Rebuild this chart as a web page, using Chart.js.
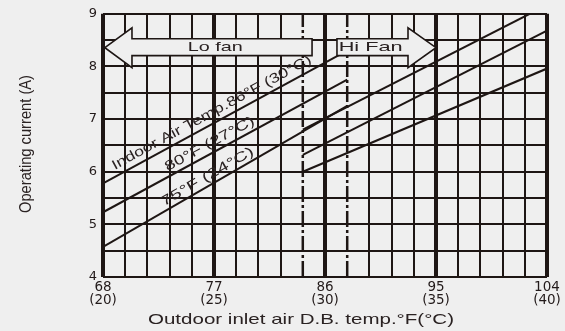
<!DOCTYPE html>
<html>
<head>
<meta charset="utf-8">
<style>
  html, body { margin: 0; padding: 0; background: #efefef; }
  #wrap { width: 565px; height: 331px; }
  canvas { display: block; }
</style>
<script src="https://cdn.jsdelivr.net/npm/chart.js@4.4.0/dist/chart.umd.min.js"></script>
</head>
<body>
<div id="wrap"><canvas id="chart" width="565" height="331"></canvas></div>
<script>
// Outdoor temperature axis: grid every 1 °C, labels every 5 °C
const gridCelsius = [20,21,22,23,24,25,26,27,28,29,30,31,32,33,34,35,36,37,38,39,40];
const xTickF = ['68', '77', '86', '95', '104'];
const xTickC = ['(20)', '(25)', '(30)', '(35)', '(40)'];
const yTickValues = [4, 5, 6, 7, 8, 9];

// Fan switch band (29 °C / 31 °C), drawn dashed
const fanSwitchF = [84.2, 87.8];

// Lo fan lines run up to 31 °C, Hi fan lines start at 29 °C
const loFanTempF = [68, 87.8];
const hiFanTempF = [84.2, 104];
const hi86TempF = [84.2, 102.6];

// Operating current (A) for each indoor air temperature
const currentLo86 = [5.78, 8.3];
const currentLo80 = [5.23, 7.75];
const currentLo75 = [4.57, 7.25];
const currentHi86 = [6.8, 9.0];
const currentHi80 = [6.32, 8.68];
const currentHi75 = [6.0, 7.96];

const lineLabels = ['Indoor Air Temp.86°F (30°C)', '80°F (27°C)', '75°F (24°C)'];

const INK = '#1e1614';
const BG = '#efefef';

const toF = c => Math.round((c * 1.8 + 32) * 100) / 100;
const pts = (xs, ys) => xs.map((x, i) => ({ x: x, y: ys[i] }));

function lineSet(xs, ys) {
  return { data: pts(xs, ys), borderColor: INK, borderWidth: 2, pointRadius: 0, fill: false, tension: 0 };
}
function switchSet(f) {
  return { data: [{ x: f, y: 4 }, { x: f, y: 9 }], borderColor: INK, borderWidth: 2.5,
           borderDash: [16, 3, 3, 3], pointRadius: 0, fill: false };
}

// Fan mode arrows and captions, plus the rotated line captions
const annotate = {
  id: 'annotate',
  afterDatasetsDraw(chart) {
    const { ctx, scales: { x, y } } = chart;
    const P = (f, a) => [x.getPixelForValue(f), y.getPixelForValue(a)];
    const bodyLo = 8.205, bodyHi = 8.527, headLo = 7.977, headHi = 8.735, mid = 8.356;

    function poly(list) {
      ctx.beginPath();
      list.forEach((p, i) => { const q = P(p[0], p[1]); i ? ctx.lineTo(q[0], q[1]) : ctx.moveTo(q[0], q[1]); });
      ctx.closePath();
      ctx.fillStyle = BG; ctx.fill();
      ctx.lineWidth = 1.6; ctx.strokeStyle = INK; ctx.stroke();
    }
    function stretched(text, cx, cy, width, size, angle, hScale) {
      ctx.save();
      ctx.font = size + 'px "Liberation Sans", Arial, sans-serif';
      const w = ctx.measureText(text).width;
      ctx.translate(cx, cy);
      ctx.rotate(angle || 0);
      ctx.scale(width / w, hScale || 1);
      ctx.fillStyle = '#2a2222';
      ctx.textAlign = 'center';
      ctx.textBaseline = 'middle';
      ctx.fillText(text, 0, 0);
      ctx.restore();
    }

    ctx.save();
    // Lo fan (left-pointing)
    poly([[68.15, mid], [70.35, headHi], [70.35, bodyHi], [84.95, bodyHi], [84.95, bodyLo], [70.35, bodyLo], [70.35, headLo]]);
    // Hi fan (right-pointing)
    poly([[86.97, bodyHi], [92.73, bodyHi], [92.73, headHi], [95.0, mid], [92.73, headLo], [92.73, bodyLo], [86.97, bodyLo]]);
    const lo = P(77.1, mid), hi = P(89.7, mid);
    stretched('Lo fan', lo[0], lo[1], 55, 13);
    stretched('Hi Fan', hi[0], hi[1], 64, 13);

    // captions along the Lo fan lines
    const specs = [
      { ds: 0, f: 77.2, off: 10, len: 225 },
      { ds: 1, f: 77.0, off: 9, len: 100 },
      { ds: 2, f: 76.8, off: 8.5, len: 105 }
    ];
    specs.forEach((s, i) => {
      const d = chart.data.datasets[s.ds].data;
      const a0 = P(d[0].x, d[0].y), a1 = P(d[1].x, d[1].y);
      const ang = Math.atan2(a1[1] - a0[1], a1[0] - a0[0]);
      const t = (s.f - d[0].x) / (d[1].x - d[0].x);
      const cx = a0[0] + (a1[0] - a0[0]) * t, cy = a0[1] + (a1[1] - a0[1]) * t;
      const nx = Math.sin(ang), ny = -Math.cos(ang);
      stretched(lineLabels[i], cx + nx * s.off, cy + ny * s.off, s.len, 13, ang, 1.05);
    });
    ctx.restore();
  },
  afterDraw(chart) {
    const { ctx } = chart;
    ctx.save();
    ctx.fillStyle = '#2a2222';
    ctx.textAlign = 'center';
    ctx.textBaseline = 'middle';
    // x-axis title
    ctx.font = '15px "Liberation Sans", Arial, sans-serif';
    let text = 'Outdoor inlet air D.B. temp.°F(°C)';
    let w = ctx.measureText(text).width;
    ctx.save();
    ctx.translate(301, 320);
    ctx.scale(306 / w, 1);
    ctx.fillText(text, 0, 0);
    ctx.restore();
    // y-axis title
    ctx.font = '13px "Liberation Sans", Arial, sans-serif';
    text = 'Operating current (A)';
    w = ctx.measureText(text).width;
    ctx.save();
    ctx.translate(26, 144);
    ctx.rotate(-Math.PI / 2);
    ctx.scale(138 / w, 1.3);
    ctx.fillText(text, 0, 0);
    ctx.restore();
    ctx.restore();
  }
};

const majorIdx = i => i % 5 === 0;
const dashedIdx = i => fanSwitchF.some(f => Math.abs(toF(gridCelsius[i]) - f) < 0.05);

new Chart(document.getElementById('chart'), {
  type: 'line',
  data: {
    datasets: [
      lineSet(loFanTempF, currentLo86),
      lineSet(loFanTempF, currentLo80),
      lineSet(loFanTempF, currentLo75),
      lineSet(hi86TempF, currentHi86),
      lineSet(hiFanTempF, currentHi80),
      lineSet(hiFanTempF, currentHi75),
      switchSet(fanSwitchF[0]),
      switchSet(fanSwitchF[1])
    ]
  },
  options: {
    responsive: false,
    animation: false,
    devicePixelRatio: 1,
    parsing: false,
    layout: { padding: { left: 0, right: 18, top: 13, bottom: 0 } },
    plugins: { legend: { display: false }, tooltip: { enabled: false } },
    scales: {
      x: {
        type: 'linear',
        min: 68,
        max: 104,
        afterBuildTicks: s => { s.ticks = gridCelsius.map(c => ({ value: toF(c) })); },
        afterFit: s => { s.height = 54; },
        border: { display: false },
        grid: {
          drawTicks: false,
          color: c => (c.index !== undefined && dashedIdx(c.index)) ? 'rgba(0,0,0,0)' : INK,
          lineWidth: c => (c.index !== undefined && majorIdx(c.index)) ? 4 : 2
        },
        ticks: {
          autoSkip: false,
          maxRotation: 0,
          padding: 4,
          color: '#221a1a',
          font: { family: '"DejaVu Sans", sans-serif', size: 13.5, lineHeight: 0.95 },
          callback: (v, i) => majorIdx(i) ? [xTickF[i / 5], xTickC[i / 5]] : ''
        }
      },
      y: {
        type: 'linear',
        min: 4,
        max: 9,
        afterFit: s => { s.width = 103; },
        border: { display: false },
        grid: { drawTicks: false, color: INK, lineWidth: 2 },
        ticks: {
          stepSize: 0.5,
          padding: 6,
          color: '#221a1a',
          font: { family: '"DejaVu Sans", sans-serif', size: 13 },
          callback: v => yTickValues.includes(v) ? String(v) : ''
        }
      }
    }
  },
  plugins: [annotate]
});
</script>
</body>
</html>
